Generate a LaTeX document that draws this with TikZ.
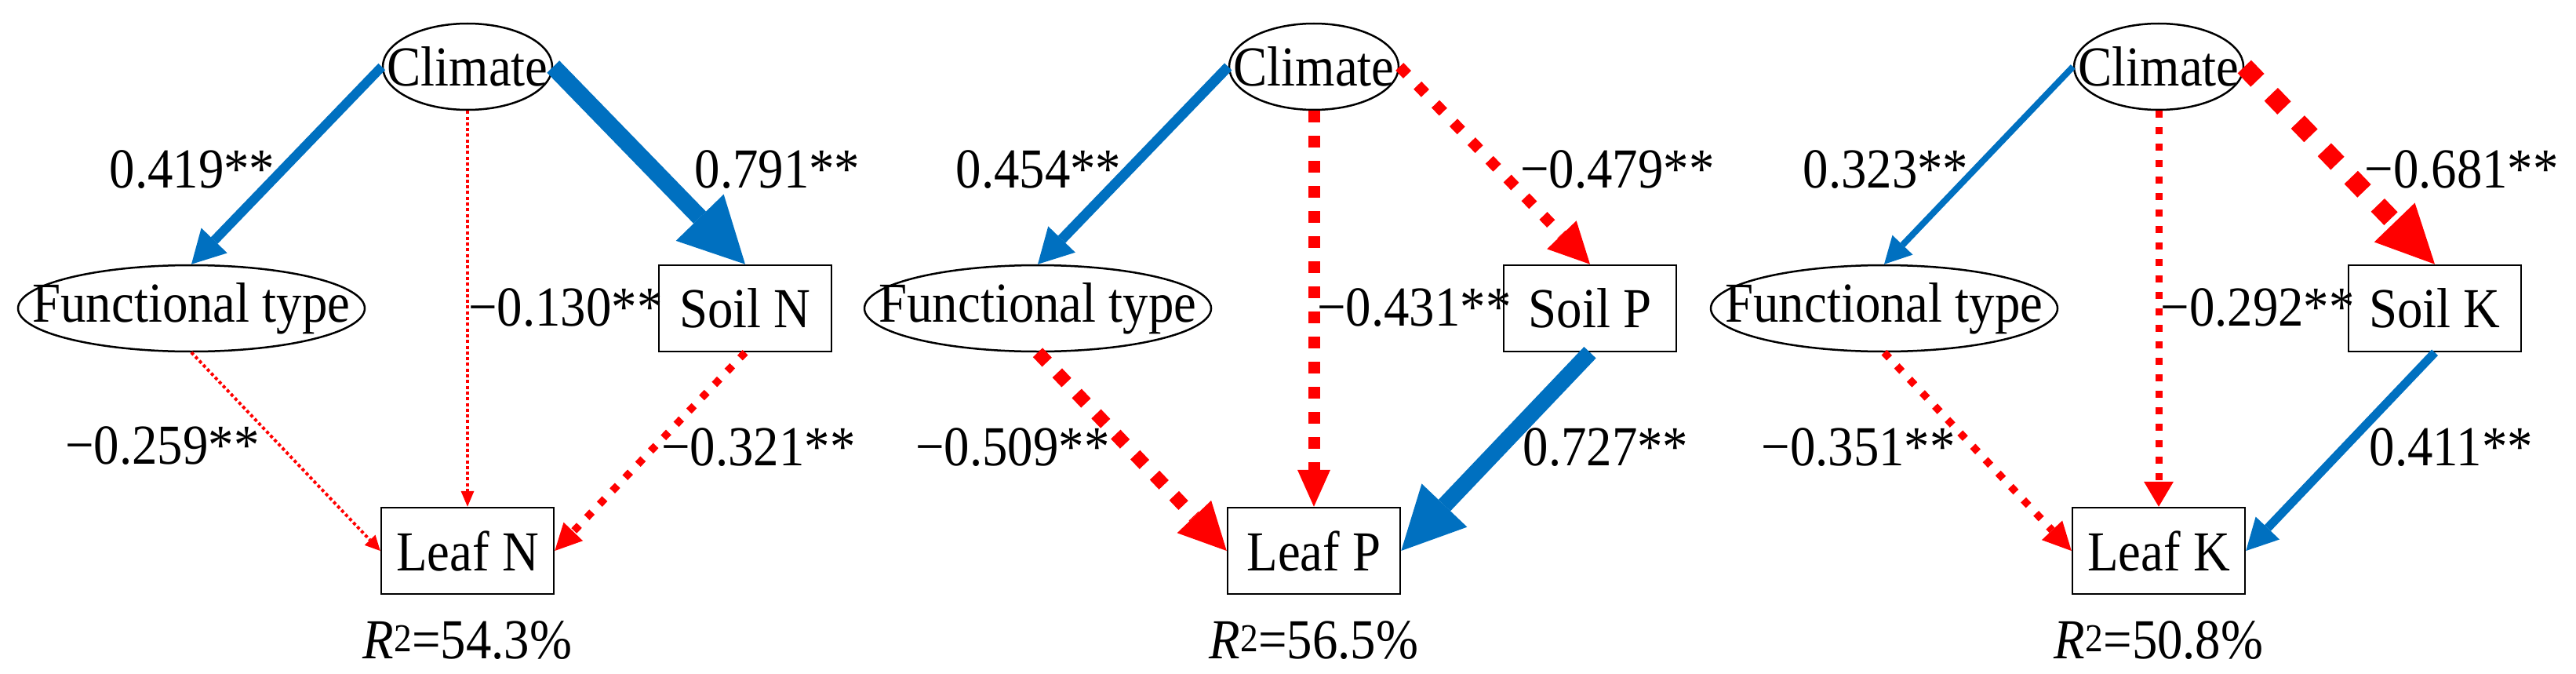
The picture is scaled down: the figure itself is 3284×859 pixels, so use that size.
\documentclass[tikz,border=0pt]{standalone}
\usepackage{fontspec}
\setmainfont[FakeStretch=0.9]{Liberation Serif}
\usetikzlibrary{arrows.meta,shapes.geometric}
\definecolor{myblue}{HTML}{0070C0}
\definecolor{myred}{HTML}{FF0000}
\begin{document}
\begin{tikzpicture}[x=1pt,y=-1pt,
  every node/.style={font=\fontsize{72}{80}\selectfont},
  ell/.style={ellipse, draw, line width=2.5pt, inner sep=0pt, minimum height=110pt},
  box/.style={rectangle, draw, line width=2.5pt, inner sep=0pt, minimum width=220pt, minimum height=110pt},
  lab/.style={inner sep=0pt},
  blu/.style={draw=myblue, line width=#1},
  rdd/.style 2 args={draw=myred, line width=#1, dash pattern=on #1 off #2},
  tip/.style 2 args={-{Triangle[length=#1,width=#2,line width=0pt]}},
]
\useasboundingbox (0,0) rectangle (3284,859);

% ---------- Panel 1 ----------
\node[ell, minimum width=216pt] (c1) at (596,85) {\makebox[0pt]{Climate}};
\node[ell, minimum width=442pt] (f1) at (244,393) {\makebox[0pt]{Functional type}};
\node[box] (s1) at (950,393) {Soil N};
\node[box] (l1) at (596,702) {Leaf N};

\draw[blu=12pt, tip={42pt}{46pt}] (c1.west) -- (f1.north);
\draw[blu=22pt, tip={83pt}{85pt}] (c1.east) -- (s1.north);
\draw[rdd={4pt}{3.3pt}, tip={20pt}{17pt}] (c1.south) -- (l1.north);
\draw[rdd={4pt}{3.3pt}, tip={19pt}{19pt}] (f1.south) -- (l1.west);
\draw[rdd={9.5pt}{14pt}, tip={34pt}{34pt}] (s1.south) -- (l1.east);

\node[lab] (a1) at (245,216) {0.419**};
\node[lab] (b1) at (991,216) {0.791**};
\node[lab] (d1) at (721,392) {−0.130**};
\node[lab] (e1) at (207,568) {−0.259**};
\node[lab] (g1) at (967,570) {−0.321**};
\node[lab] (r1) at (596,816) {\textit{R}\textsuperscript{2}=54.3\%};

% ---------- Panel 2 ----------
\node[ell, minimum width=216pt] (c2) at (1675,85) {\makebox[0pt]{Climate}};
\node[ell, minimum width=442pt] (f2) at (1323,393) {\makebox[0pt]{Functional type}};
\node[box] (s2) at (2027,393) {Soil P};
\node[box] (l2) at (1675,702) {Leaf P};

\draw[blu=13pt, tip={44pt}{48pt}] (c2.west) -- (f2.north);
\draw[rdd={14pt}{19pt}, tip={52pt}{52pt}] (c2.east) -- (s2.north);
\draw[rdd={15pt}{17pt}, tip={47pt}{42pt}] (c2.south) -- (l2.north);
\draw[rdd={17pt}{19pt}, tip={60pt}{60pt}] (f2.south) -- (l2.west);
\draw[blu=21pt, tip={80pt}{80pt}] (s2.south) -- (l2.east);

\node[lab] (a2) at (1324,216) {0.454**};
\node[lab] (b2) at (2062,216) {−0.479**};
\node[lab] (d2) at (1803,392) {−0.431**};
\node[lab] (e2) at (1291,570) {−0.509**};
\node[lab] (g2) at (2047,570) {0.727**};
\node[lab] (r2) at (1675,816) {\textit{R}\textsuperscript{2}=56.5\%};

% ---------- Panel 3 ----------
\node[ell, minimum width=216pt] (c3) at (2752,85) {\makebox[0pt]{Climate}};
\node[ell, minimum width=442pt] (f3) at (2402,393) {\makebox[0pt]{Functional type}};
\node[box] (s3) at (3104,393) {Soil K};
\node[box] (l3) at (2752,702) {Leaf K};

\draw[blu=8pt, tip={34pt}{36pt}] (c3.west) -- (f3.north);
\draw[rdd={24pt}{25pt}, tip={74pt}{72pt}] (c3.east) -- (s3.north);
\draw[rdd={9pt}{12pt}, tip={32pt}{38pt}] (c3.south) -- (l3.north);
\draw[rdd={9.5pt}{14pt}, tip={36pt}{36pt}] (f3.south) -- (l3.west);
\draw[blu=11pt, tip={40pt}{42pt}] (s3.south) -- (l3.east);

\node[lab] (a3) at (2404,216) {0.323**};
\node[lab] (b3) at (3138,216) {−0.681**};
\node[lab] (d3) at (2878,392) {−0.292**};
\node[lab] (e3) at (2369,570) {−0.351**};
\node[lab] (g3) at (3125,570) {0.411**};
\node[lab] (r3) at (2752,816) {\textit{R}\textsuperscript{2}=50.8\%};
\end{tikzpicture}
\end{document}
